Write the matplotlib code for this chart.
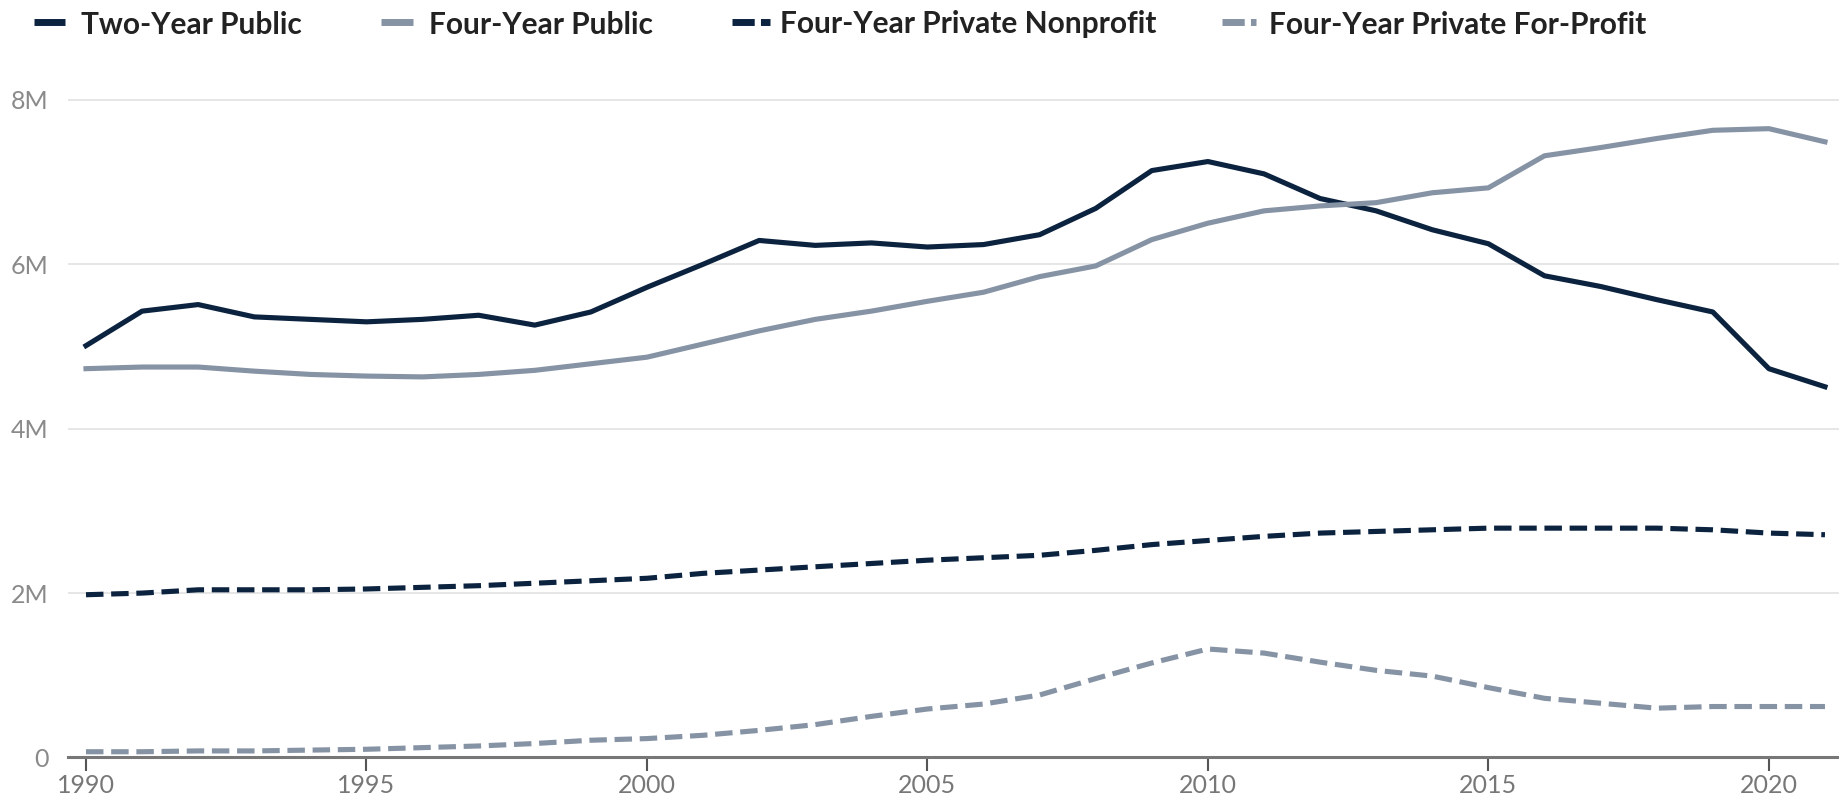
import matplotlib.pyplot as plt
from matplotlib.lines import Line2D
from matplotlib.ticker import FuncFormatter

years = list(range(1990, 2022))

# enrollment in millions
two_year_public = [5.01, 5.43, 5.51, 5.36, 5.33, 5.30, 5.33, 5.38, 5.26, 5.42,
                   5.72, 6.00, 6.29, 6.23, 6.26, 6.21, 6.24, 6.36, 6.68, 7.14,
                   7.25, 7.10, 6.80, 6.65, 6.42, 6.25, 5.86, 5.73, 5.57, 5.42,
                   4.73, 4.51]
four_year_public = [4.73, 4.75, 4.75, 4.70, 4.66, 4.64, 4.63, 4.66, 4.71, 4.79,
                    4.87, 5.03, 5.19, 5.33, 5.43, 5.55, 5.66, 5.85, 5.98, 6.30,
                    6.50, 6.65, 6.71, 6.75, 6.87, 6.93, 7.32, 7.42, 7.53, 7.63,
                    7.65, 7.49]
private_nonprofit = [1.98, 2.00, 2.04, 2.04, 2.04, 2.05, 2.07, 2.09, 2.12, 2.15,
                     2.18, 2.24, 2.28, 2.32, 2.36, 2.40, 2.43, 2.46, 2.52, 2.59,
                     2.64, 2.69, 2.73, 2.75, 2.77, 2.79, 2.79, 2.79, 2.79, 2.77,
                     2.73, 2.71]
private_forprofit = [0.07, 0.07, 0.08, 0.08, 0.09, 0.10, 0.12, 0.14, 0.17, 0.21,
                     0.23, 0.27, 0.33, 0.40, 0.50, 0.59, 0.65, 0.76, 0.96, 1.15,
                     1.32, 1.27, 1.16, 1.06, 0.99, 0.85, 0.72, 0.66, 0.60, 0.62,
                     0.62, 0.62]

labels = ["Two-Year Public", "Four-Year Public",
          "Four-Year Private Nonprofit", "Four-Year Private For-Profit"]
x_ticks = [1990, 1995, 2000, 2005, 2010, 2015, 2020]
y_ticks = [0, 2, 4, 6, 8]

navy = "#0c2340"
grey = "#8693a5"
lw = 3.7
dash = (3.4, 1.5)

W, H = 1839, 802
fig = plt.figure(figsize=(W / 100, H / 100), dpi=100)
ax = fig.add_axes([0.037, 0.0555, 0.963, 0.8507])

series = [two_year_public, four_year_public, private_nonprofit, private_forprofit]
colors = [navy, grey, navy, grey]
styles = [None, None, dash, dash]
for vals, c, d, lab in zip(series, colors, styles, labels):
    if d is None:
        ax.plot(years, vals, color=c, lw=lw, label=lab)
    else:
        ax.plot(years, vals, color=c, lw=lw, dashes=d, label=lab)

ax.set_xlim(1989.68, 2021.25)
ax.set_ylim(0, 8.3)

ax.set_yticks(y_ticks)
ax.yaxis.set_major_formatter(FuncFormatter(lambda v, p: "0" if v == 0 else f"{v:.0f}M"))
ax.set_xticks(x_ticks)

ax.grid(axis="y", color="#e4e4e4", lw=1.3)
ax.set_axisbelow(True)
for s in ["top", "right", "left"]:
    ax.spines[s].set_visible(False)
ax.spines["bottom"].set_color("#777777")
ax.spines["bottom"].set_linewidth(2.2)
ax.spines["bottom"].set_zorder(1)

ax.tick_params(axis="y", length=0, pad=14, labelsize=18, labelcolor="#8a8a8a")
ax.tick_params(axis="x", length=10, width=1.5, color="#555555", direction="out",
               pad=2, labelsize=18, labelcolor="#777777")
for t in ax.get_yticklabels():
    t.set_family(["Lato", "DejaVu Sans"])
for t in ax.get_xticklabels():
    t.set_family(["Liberation Sans Narrow", "Lato", "DejaVu Sans"])

# legend row laid out by hand (pixel positions of handle start/end and text start)
leg_pos = [(34, 65, 81), (381, 413, 429), (732, 770, 780), (1222, 1256, 1269)]
leg_y = 1 - 22 / H
for (x0, x1, xt), c, d, lab in zip(leg_pos, colors, styles, labels):
    h = Line2D([x0 / W, x1 / W], [leg_y, leg_y], transform=fig.transFigure,
               color=c, lw=5, solid_capstyle="butt", dash_capstyle="butt")
    if d is not None:
        h.set_dashes((3.2, 0.9))
    fig.add_artist(h)
    fig.text(xt / W, leg_y, lab, ha="left", va="center_baseline", fontsize=21.5,
             fontweight="bold", color="#222222", family=["Lato", "DejaVu Sans"])

fig.savefig("out.png", dpi=100)
